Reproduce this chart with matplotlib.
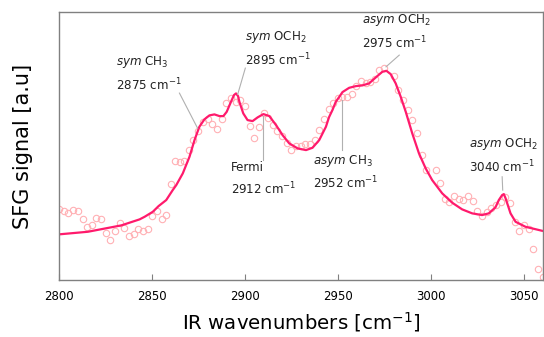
import matplotlib
matplotlib.use("Agg")
import matplotlib.pyplot as plt

# measured SFG points (open circles)
wn_data = [2800.0, 2802.5, 2805.0, 2807.5, 2810.0, 2812.7, 2815.2, 2817.5, 2820.1, 2822.5,
           2825.0, 2827.6, 2830.0, 2832.5, 2835.1, 2837.5, 2840.1, 2842.6, 2845.0, 2847.6,
           2850.1, 2852.5, 2855.1, 2857.6, 2860.1, 2862.4, 2864.9, 2867.2, 2869.7, 2872.2,
           2874.7, 2877.2, 2879.9, 2882.4, 2884.9, 2887.4, 2889.9, 2892.4, 2894.9, 2897.4,
           2899.9, 2902.4, 2904.9, 2907.5, 2909.9, 2912.4, 2915.0, 2917.3, 2919.8, 2922.3,
           2924.8, 2927.3, 2929.8, 2932.3, 2934.8, 2937.3, 2939.8, 2942.3, 2944.8, 2947.3,
           2949.8, 2952.3, 2954.8, 2957.3, 2959.8, 2962.3, 2964.8, 2967.3, 2969.8, 2972.1,
           2974.8, 2979.8, 2982.3, 2984.8, 2987.3, 2989.8, 2992.3, 2994.8, 2997.3, 3002.3,
           3004.8, 3007.3, 3009.8, 3012.3, 3014.8, 3017.3, 3019.8, 3022.3, 3024.8, 3027.3,
           3029.8, 3032.3, 3034.8, 3037.3, 3039.8, 3042.3, 3044.8, 3047.3, 3049.8, 3052.3,
           3054.8, 3057.3, 3059.8]
sfg_data = [70.7, 68.7, 67.3, 70.0, 69.0, 61.3, 53.3, 54.7, 62.3, 60.7,
            46.7, 40.0, 49.3, 57.0, 52.0, 44.3, 46.3, 50.7, 49.3, 51.3,
            64.0, 69.3, 61.3, 65.3, 95.7, 119.3, 117.7, 119.0, 130.0, 140.0,
            149.0, 158.0, 161.0, 155.7, 151.0, 161.0, 176.7, 181.7, 178.3, 179.7,
            174.0, 154.3, 142.3, 153.3, 166.7, 161.7, 155.0, 149.0, 144.0, 137.3,
            130.0, 134.0, 134.0, 136.0, 136.0, 140.0, 150.0, 160.7, 170.7, 177.3,
            181.7, 183.3, 183.3, 186.3, 194.3, 199.0, 196.7, 198.0, 201.3, 210.0,
            212.3, 204.0, 190.0, 180.0, 170.0, 160.0, 147.5, 125.0, 110.0, 110.0,
            97.3, 80.7, 78.0, 83.7, 80.7, 80.0, 84.0, 79.0, 68.7, 64.0,
            68.3, 72.3, 75.0, 78.3, 83.3, 76.7, 58.3, 48.7, 54.7, 51.0,
            30.7, 10.7, 3.3]

# fitted curve
wn_fit = [2800.0, 2815.5, 2833.5, 2843.3, 2846.0, 2850.4, 2853.5, 2857.6, 2861.1, 2863.0,
          2866.5, 2870.1, 2872.8, 2875.4, 2878.1, 2880.8, 2883.5, 2886.2, 2888.3, 2890.1,
          2892.4, 2894.0, 2895.1, 2896.2, 2896.9, 2899.0, 2901.3, 2904.0, 2906.7, 2909.8,
          2913.0, 2916.6, 2920.1, 2923.7, 2928.2, 2932.7, 2936.2, 2939.8, 2943.4, 2945.1,
          2946.9, 2948.7, 2950.5, 2952.3, 2955.9, 2959.5, 2963.0, 2966.6, 2970.2, 2973.7,
          2975.9, 2978.2, 2980.9, 2983.6, 2986.3, 2989.8, 2993.4, 2997.0, 3000.5, 3005.9,
          3011.3, 3016.6, 3022.0, 3027.3, 3030.9, 3034.5, 3036.3, 3038.1, 3039.0, 3039.9,
          3042.6, 3045.3, 3050.6, 3059.5]
sfg_fit = [45.7, 48.3, 54.7, 60.7, 63.3, 68.3, 74.0, 80.0, 90.0, 95.0,
           106.7, 123.3, 140.0, 153.3, 160.7, 164.7, 165.7, 164.0, 164.0, 168.3,
           178.3, 185.0, 186.7, 184.0, 178.3, 166.7, 160.0, 159.0, 162.7, 166.0,
           164.0, 155.0, 145.0, 136.7, 131.7, 130.0, 132.3, 140.0, 153.3, 163.0,
           170.0, 178.3, 183.0, 188.0, 192.3, 194.0, 194.7, 196.7, 202.7, 208.3,
           209.3, 206.0, 196.7, 183.3, 168.3, 146.7, 126.7, 111.7, 100.0, 86.7,
           77.3, 70.7, 66.7, 65.0, 66.7, 72.7, 80.0, 85.0, 86.0, 82.0,
           66.7, 58.3, 53.3, 49.3]

fig = plt.figure(figsize=(5.44, 3.37), dpi=100)
ax = fig.add_axes([0.1085, 0.169, 0.8895, 0.795])

ax.plot(wn_data, sfg_data, 'o', mfc='none', mec='#ffb0b4', ms=4.6, mew=0.8)
ax.plot(wn_fit, sfg_fit, color='#ff1a6c', lw=1.6)

ax.set_xlim(2800, 3060)
ax.set_ylim(0, 268)
ax.set_xticks([2800, 2850, 2900, 2950, 3000, 3050])
ax.set_yticks([])
ax.tick_params(axis='x', direction='in', length=4, color='#808080', labelsize=8.5, pad=7)
for s in ax.spines.values():
    s.set_color('#808080')
    s.set_linewidth(1.0)

ax.set_xlabel(r'IR wavenumbers [cm$^{-1}$]', fontsize=14.2, labelpad=5)
ax.set_ylabel('SFG signal [a.u]', fontsize=15, labelpad=19)

lead = dict(color='#b0b0b0', lw=0.8)
fs = 8.6
# (text x, line1 y, line2 y, line1, line2, leader start, leader end)
notes = [
    (2830.4, 218, 195, r'$\it{sym}$ CH$_3$', r'2875 cm$^{-1}$', (2864.7, 187), (2874.5, 151.7)),
    (2900.1, 243, 220, r'$\it{sym}$ OCH$_2$', r'2895 cm$^{-1}$', (2900.1, 212), (2896.0, 185.7)),
    (2892.6, 113, 91, 'Fermi', r'2912 cm$^{-1}$', (2909.8, 120), (2909.8, 164)),
    (2936.6, 119, 97, r'$\it{asym}$ CH$_3$', r'2952 cm$^{-1}$', (2952.3, 130), (2952.3, 180)),
    (2962.8, 260, 237, r'$\it{asym}$ OCH$_2$', r'2975 cm$^{-1}$', (2982.8, 225), (2975.7, 213.3)),
    (3020.2, 136, 113, r'$\it{asym}$ OCH$_2$', r'3040 cm$^{-1}$', (3038.1, 103.3), (3038.4, 90)),
]
for x, y1, y2, t1, t2, p0, p1 in notes:
    ax.text(x, y1, t1, fontsize=fs, ha='left', va='center', color='#222222')
    ax.text(x, y2, t2, fontsize=fs, ha='left', va='center', color='#222222')
    ax.plot([p0[0], p1[0]], [p0[1], p1[1]], **lead)

fig.savefig('out.png', dpi=100)
